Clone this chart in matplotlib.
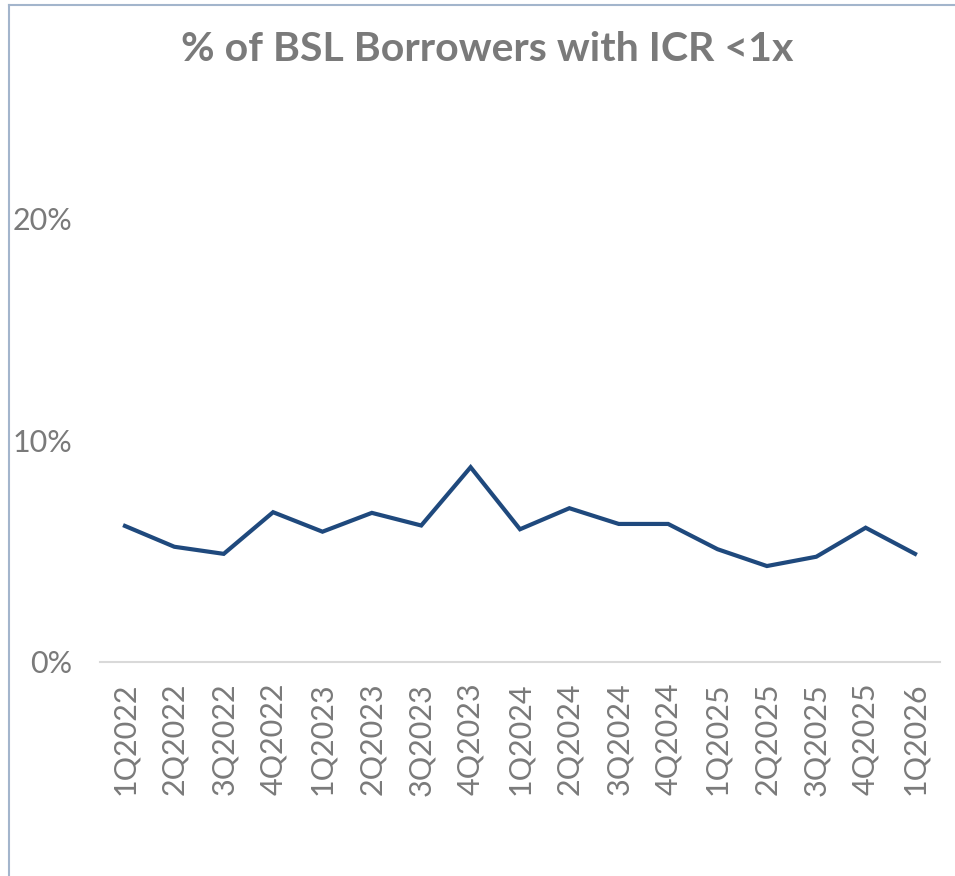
import matplotlib.pyplot as plt
from matplotlib.lines import Line2D
from matplotlib.ticker import FuncFormatter

plt.rcParams["font.family"] = ["Lato", "DejaVu Sans"]

quarters = ["1Q2022", "2Q2022", "3Q2022", "4Q2022",
            "1Q2023", "2Q2023", "3Q2023", "4Q2023",
            "1Q2024", "2Q2024", "3Q2024", "4Q2024",
            "1Q2025", "2Q2025", "3Q2025", "4Q2025",
            "1Q2026"]
pct_icr_below_1x = [6.14, 5.20, 4.88, 6.76,
                    5.88, 6.73, 6.16, 8.79,
                    5.99, 6.94, 6.23, 6.23,
                    5.09, 4.33, 4.75, 6.06,
                    4.88]
y_ticks = [0, 10, 20]

text_grey = "#7a7a7a"
line_blue = "#1f497d"

fig = plt.figure(figsize=(9.55, 8.76), dpi=100)
ax = fig.add_axes([0.105, 0.2443, 0.879, 0.6324])

x = range(len(quarters))
ax.plot(x, pct_icr_below_1x, color=line_blue, linewidth=3, solid_joinstyle="miter")

ax.set_xlim(-0.5, len(quarters) - 0.5)
ax.set_ylim(0, 25)
ax.set_yticks(y_ticks)
ax.yaxis.set_major_formatter(FuncFormatter(lambda v, p: f"{v:.0f}%"))
ax.set_xticks(list(x))
ax.set_xticklabels(quarters, rotation=90)

for side in ["top", "right", "left"]:
    ax.spines[side].set_visible(False)
ax.spines["bottom"].set_color("#d9d9d9")
ax.spines["bottom"].set_linewidth(1.5)

ax.tick_params(axis="both", length=0, labelsize=22, labelcolor=text_grey)
ax.tick_params(axis="x", pad=15)
ax.tick_params(axis="y", pad=20)

fig.text(0.51, 0.943, "% of BSL Borrowers with ICR <1x", ha="center", va="center",
         fontsize=29.5, fontweight="bold", color=text_grey)

# frame of the chart area (left and top only, rest is cropped)
border = "#a3b5cc"
fig.add_artist(Line2D([0.009, 0.009], [0, 0.994], color=border, linewidth=1.5))
fig.add_artist(Line2D([0.009, 1.0], [0.994, 0.994], color=border, linewidth=1.5))

plt.savefig("out.png", dpi=100)
